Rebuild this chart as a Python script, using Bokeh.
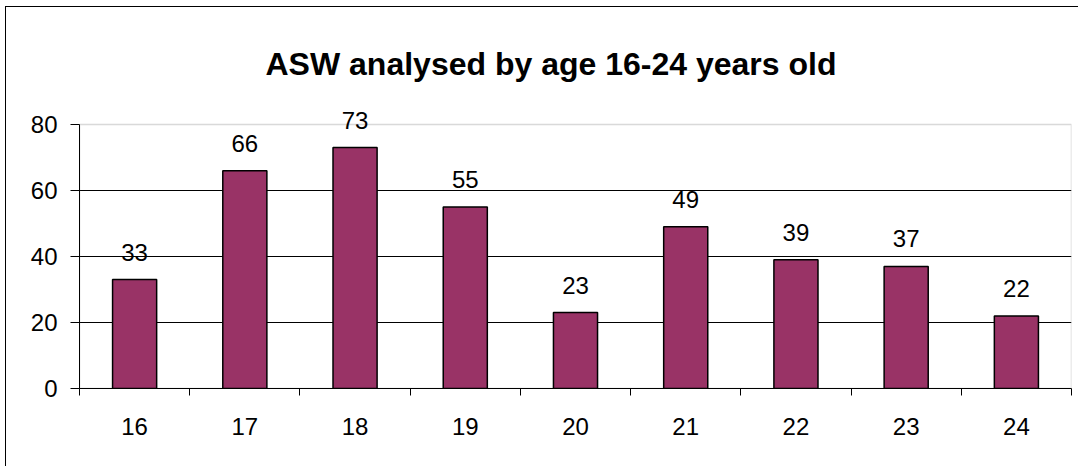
from bokeh.plotting import figure
from bokeh.models import ColumnDataSource, FixedTicker, LabelSet, Range1d, BoxAnnotation
from bokeh.core.properties import value
from bokeh.embed import file_html
from bokeh.resources import INLINE

ages = ["16", "17", "18", "19", "20", "21", "22", "23", "24"]
counts = [33, 66, 73, 55, 23, 49, 39, 37, 22]
y_ticks = [0, 20, 40, 60, 80]
y_max = 80
title_text = "ASW analysed by age 16-24 years old"

xs = list(range(1, len(ages) + 1))
src = ColumnDataSource(dict(x=xs, top=counts, label=[str(c) for c in counts]))

FONT = "Liberation Sans"
px_per_unit = 3.3
headroom = 20 / px_per_unit

p = figure(width=1073, height=460, output_backend="svg", toolbar_location=None,
           x_range=Range1d(0.5, len(ages) + 0.5), y_range=Range1d(0, y_max + headroom),
           min_border_left=73, min_border_right=8, min_border_top=97, min_border_bottom=79,
           title=title_text)
p.background_fill_color = "white"
p.border_fill_color = "white"
p.styles = {"border-left": "1px solid black", "border-top": "1px solid black",
            "box-sizing": "border-box", "margin-left": "5px", "margin-top": "6px"}

p.title.text_font = FONT
p.title.text_font_size = "32px"
p.title.text_font_style = "bold"
p.title.align = "left"
p.title.offset = 186
p.title.vertical_align = "top"
p.title.standoff = 42
p.title.text_color = "black"

p.outline_line_color = None

# plot-area box (0..80) with gray top/right edges
p.add_layout(BoxAnnotation(left=0.5, right=len(ages) + 0.5, bottom=0, top=y_max,
                           fill_color=None, line_color="#808080", line_width=1.5,
                           level="underlay"))

p.vbar(x="x", top="top", width=0.4, bottom=0, source=src,
       fill_color="#993366", line_color="black", line_width=1.5)

labels = LabelSet(x="x", y="top", text="label", source=src, text_align="center",
                  text_baseline="alphabetic", y_offset=19, text_font=value(FONT),
                  text_font_size=value("24px"), text_color="black")
p.add_layout(labels)

# y axis
p.yaxis.ticker = FixedTicker(ticks=y_ticks)
p.yaxis.bounds = (0, y_max)
p.yaxis.axis_line_color = "black"
p.yaxis.major_tick_line_color = "black"
p.yaxis.major_tick_out = 9
p.yaxis.major_tick_in = 0
p.yaxis.minor_tick_line_color = None
p.yaxis.major_label_text_font = FONT
p.yaxis.major_label_text_font_size = "24px"
p.yaxis.major_label_text_color = "black"
p.yaxis.major_label_standoff = 13

# x axis
p.xaxis.ticker = FixedTicker(ticks=xs, minor_ticks=[x - 0.5 for x in xs] + [len(xs) + 0.5])
p.xaxis.major_label_overrides = {x: a for x, a in zip(xs, ages)}
p.xaxis.axis_line_color = "black"
p.xaxis.major_tick_line_color = None
p.xaxis.major_tick_out = 0
p.xaxis.major_tick_in = 0
p.xaxis.minor_tick_line_color = "black"
p.xaxis.minor_tick_out = 7
p.xaxis.minor_tick_in = 0
p.xaxis.major_label_text_font = FONT
p.xaxis.major_label_text_font_size = "24px"
p.xaxis.major_label_text_color = "black"
p.xaxis.major_label_standoff = 22

p.xgrid.grid_line_color = None
p.ygrid.ticker = FixedTicker(ticks=[20, 40, 60])
p.ygrid.grid_line_color = "black"
p.ygrid.grid_line_width = 1

open("out.html", "w").write(file_html(p, INLINE))
